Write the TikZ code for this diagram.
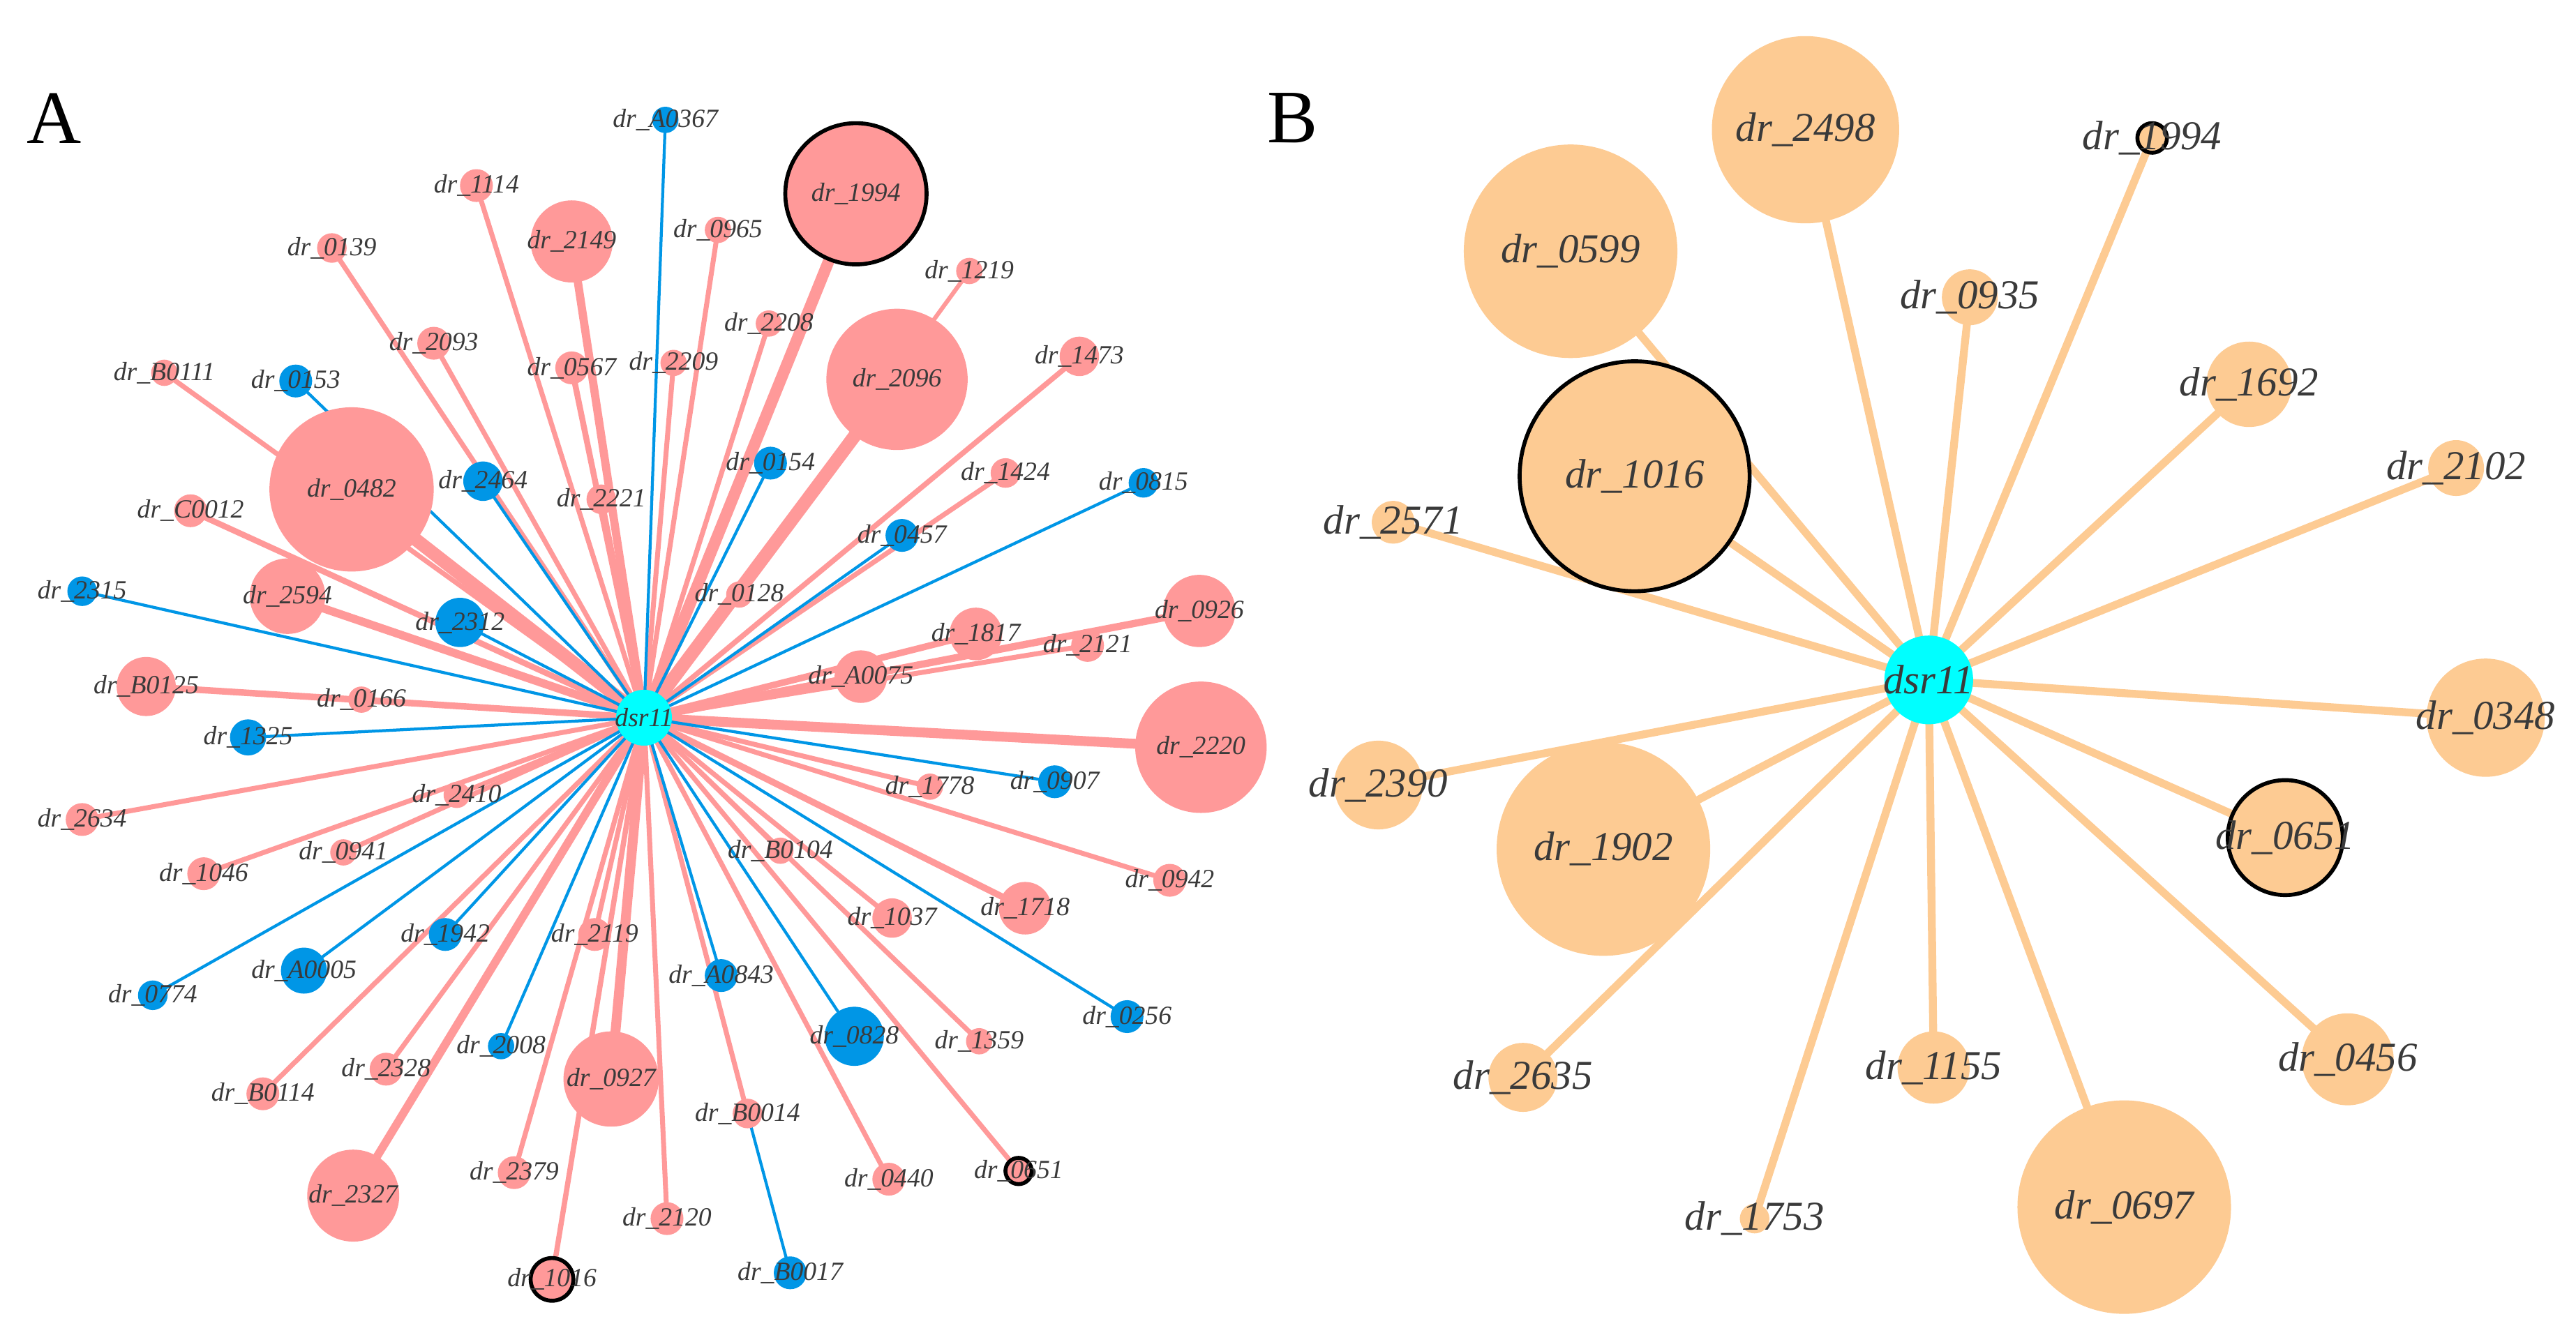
\documentclass[tikz,border=0pt]{standalone}
\usepackage{fontspec}
\setmainfont{Liberation Serif}
\usetikzlibrary{backgrounds}
\definecolor{pk}{HTML}{FF9999}
\definecolor{bl}{HTML}{0096E6}
\definecolor{cy}{HTML}{00FFFF}
\definecolor{og}{HTML}{FDCB93}
\definecolor{tx}{HTML}{3A3A3A}
\tikzset{
  x=0.5pt,y=-0.5pt,
  nd/.style={circle,inner sep=0pt,draw=none},
  P/.style={nd,fill=pk}, Bl/.style={nd,fill=bl}, O/.style={nd,fill=og},
  C/.style={nd,fill=cy},
  K/.style={line width=1.2pt,draw=black},
  labA/.style={text=tx,font=\fontsize{8}{8}\selectfont\itshape,inner sep=0pt},
  labB/.style={text=tx,font=\fontsize{12.5}{12.5}\selectfont\itshape,inner sep=0pt},
  pe/.style={draw=pk,line width=1.5pt},
  be/.style={draw=bl,line width=0.9pt},
  oe/.style={draw=og,line width=2.4pt},
}
\newcommand\ndA[6]{\node[#5,minimum size=#4pt] (#1) at (#2,#3) {}; \node[labA] (#1l) at (#2,#3) {#6};}
\newcommand\ndB[6]{\node[#5,minimum size=#4pt] (#1) at (#2,#3) {}; \node[labB] (#1l) at (#2,#3) {#6};}
\begin{document}
\begin{tikzpicture}
\useasboundingbox (0,0) rectangle (1568,817);
\node[font=\fontsize{23}{23}\selectfont] (lA) at (33,72) {A};
\node[font=\fontsize{23}{23}\selectfont] (lB) at (787,72) {B};
% ---------- Panel A
\ndA{c}{392}{437}{17}{C}{dsr11}
\ndA{a1}{405}{73}{8}{Bl}{dr\_A0367}
\ndA{a2}{521}{118}{43}{P,K}{dr\_1994}
\ndA{a3}{290}{113}{10}{P}{dr\_1114}
\ndA{a4}{348}{147}{25}{P}{dr\_2149}
\ndA{a5}{437}{140}{8}{P}{dr\_0965}
\ndA{a6}{202}{151}{9}{P}{dr\_0139}
\ndA{a7}{590}{165}{8}{P}{dr\_1219}
\ndA{a8}{468}{197}{8}{P}{dr\_2208}
\ndA{a9}{264}{209}{10}{P}{dr\_2093}
\ndA{a10}{546}{231}{43}{P}{dr\_2096}
\ndA{a11}{657}{217}{12}{P}{dr\_1473}
\ndA{a12}{100}{227}{8}{P}{dr\_B0111}
\ndA{a13}{180}{232}{10}{Bl}{dr\_0153}
\ndA{a14}{348}{224}{10}{P}{dr\_0567}
\ndA{a15}{410}{221}{8}{P}{dr\_2209}
\ndA{a16}{214}{298}{50}{P}{dr\_0482}
\ndA{a17}{294}{293}{12}{Bl}{dr\_2464}
\ndA{a18}{469}{282}{10}{Bl}{dr\_0154}
\ndA{a19}{612}{288}{9}{P}{dr\_1424}
\ndA{a20}{696}{294}{9}{Bl}{dr\_0815}
\ndA{a21}{366}{304}{9}{P}{dr\_2221}
\ndA{a22}{116}{311}{10}{P}{dr\_C0012}
\ndA{a23}{549}{326}{10}{Bl}{dr\_0457}
\ndA{a24}{50}{360}{9}{Bl}{dr\_2315}
\ndA{a25}{175}{363}{23}{P}{dr\_2594}
\ndA{a26}{280}{379}{15}{Bl}{dr\_2312}
\ndA{a27}{450}{362}{8}{P}{dr\_0128}
\ndA{a28}{730}{372}{22}{P}{dr\_0926}
\ndA{a29}{594}{386}{16}{P}{dr\_1817}
\ndA{a30}{662}{393}{10}{P}{dr\_2121}
\ndA{a31}{524}{412}{16}{P}{dr\_A0075}
\ndA{a32}{89}{418}{18}{P}{dr\_B0125}
\ndA{a33}{220}{426}{8}{P}{dr\_0166}
\ndA{a34}{151}{449}{11}{Bl}{dr\_1325}
\ndA{a35}{731}{455}{40}{P}{dr\_2220}
\ndA{a36}{50}{499}{10}{P}{dr\_2634}
\ndA{a37}{278}{484}{8}{P}{dr\_2410}
\ndA{a38}{566}{479}{8}{P}{dr\_1778}
\ndA{a39}{642}{476}{10}{Bl}{dr\_0907}
\ndA{a40}{124}{532}{10}{P}{dr\_1046}
\ndA{a41}{209}{519}{8}{P}{dr\_0941}
\ndA{a42}{475}{518}{8}{P}{dr\_B0104}
\ndA{a43}{543}{559}{12}{P}{dr\_1037}
\ndA{a44}{624}{553}{16}{P}{dr\_1718}
\ndA{a45}{712}{536}{10}{P}{dr\_0942}
\ndA{a46}{271}{569}{10}{Bl}{dr\_1942}
\ndA{a47}{362}{569}{10}{P}{dr\_2119}
\ndA{a48}{185}{591}{14}{Bl}{dr\_A0005}
\ndA{a49}{439}{594}{10}{Bl}{dr\_A0843}
\ndA{a50}{93}{606}{9}{Bl}{dr\_0774}
\ndA{a51}{686}{619}{10}{Bl}{dr\_0256}
\ndA{a52}{520}{631}{18}{Bl}{dr\_0828}
\ndA{a53}{596}{634}{8}{P}{dr\_1359}
\ndA{a54}{305}{637}{8}{Bl}{dr\_2008}
\ndA{a55}{235}{651}{10}{P}{dr\_2328}
\ndA{a56}{372}{657}{29}{P}{dr\_0927}
\ndA{a57}{160}{666}{10}{P}{dr\_B0114}
\ndA{a58}{455}{678}{9}{P}{dr\_B0014}
\ndA{a59}{215}{728}{28}{P}{dr\_2327}
\ndA{a60}{313}{714}{10}{P}{dr\_2379}
\ndA{a61}{541}{718}{10}{P}{dr\_0440}
\ndA{a62}{620}{713}{8}{P,K}{dr\_0651}
\ndA{a63}{406}{742}{10}{P}{dr\_2120}
\ndA{a64}{336}{779}{13}{P,K}{dr\_1016}
\ndA{a65}{481}{775}{10}{Bl}{dr\_B0017}
% ---------- Panel B
\ndB{d}{1174}{414}{27}{C}{dsr11}
\ndB{b1}{1099}{79}{57}{O}{dr\_2498}
\ndB{b2}{1310}{84}{9}{O,K}{dr\_1994}
\ndB{b3}{956}{153}{65}{O}{dr\_0599}
\ndB{b4}{1199}{181}{17}{O}{dr\_0935}
\ndB{b5}{1369}{234}{26}{O}{dr\_1692}
\ndB{b6}{995}{290}{70}{O,K}{dr\_1016}
\ndB{b7}{1495}{285}{17}{O}{dr\_2102}
\ndB{b8}{848}{318}{13}{O}{dr\_2571}
\ndB{b9}{1513}{437}{36}{O}{dr\_0348}
\ndB{b10}{839}{478}{27}{O}{dr\_2390}
\ndB{b11}{976}{517}{65}{O}{dr\_1902}
\ndB{b12}{1391}{510}{35}{O,K}{dr\_0651}
\ndB{b13}{927}{656}{21}{O}{dr\_2635}
\ndB{b14}{1177}{650}{22}{O}{dr\_1155}
\ndB{b15}{1429}{645}{28}{O}{dr\_0456}
\ndB{b16}{1293}{735}{65}{O}{dr\_0697}
\ndB{b17}{1068}{742}{9}{O}{dr\_1753}
\begin{pgfonlayer}{background}
% pink edges (name/width)
\foreach \n/\w in {a2/3.5,a3/1.5,a4/2.5,a5/1.5,a6/1.5,a7/1.3,a8/1.5,a9/1.5,a10/4,a11/1.6,a12/1.5,a14/1.8,a15/1.5,a16/4,a19/1.5,a21/1.8,a22/1.8,a25/2.5,a27/1.3,a28/2.2,a29/2,a30/1.5,a31/2.5,a32/2,a33/1.5,a35/3,a36/1.5,a37/1.5,a38/1.5,a40/1.5,a41/1.5,a42/1.3,a43/1.5,a44/2,a45/1.5,a47/1.5,a53/1.5,a55/1.5,a56/3,a57/1.5,a58/1.5,a59/2.5,a60/1.5,a61/1.5,a62/1.5,a63/1.5,a64/1.6}
  \draw[pe,line width=\w pt] (c.center) -- (\n.center);
\foreach \n in {a1,a13,a17,a18,a20,a23,a24,a26,a34,a39,a46,a48,a49,a50,a51,a52,a54}
  \draw[be] (c.center) -- (\n.center);
\draw[be] (a58.center) -- (a65.center);
\foreach \n in {b1,b2,b3,b4,b5,b6,b7,b8,b9,b10,b11,b12,b13,b14,b15,b16,b17}
  \draw[oe] (d.center) -- (\n.center);
\end{pgfonlayer}
\end{tikzpicture}
\end{document}
